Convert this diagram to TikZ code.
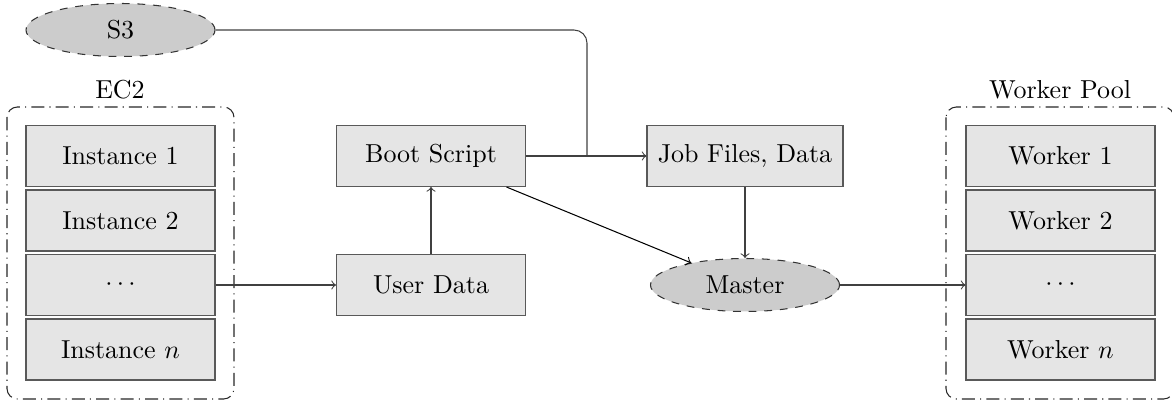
\documentclass[tikz,border=0pt]{standalone}
\usetikzlibrary{shapes.geometric}
\newdimen\pxu \pxu=0.385pt
\begin{document}
\begin{tikzpicture}[x=0.385pt,y=-0.385pt,
  box/.style={draw=black!65,fill=black!10,minimum width=189\pxu,minimum height=61\pxu,inner sep=0pt},
  cloud/.style={ellipse,draw=black!80,dashed,fill=black!20,minimum width=189\pxu,minimum height=53\pxu,inner sep=0pt},
  group/.style={draw=black!85,dash pattern=on 5pt off 2pt on 0.4pt off 2pt,rounded corners=4pt},
  conn/.style={draw=black!75,->,>=to},
  every node/.style={font=\normalsize}]
\useasboundingbox (0,0) rectangle (1172,400);
% groups
\draw[group] (7,107) rectangle (234,399);
\draw[group] (946,107) rectangle (1174,399);
\node (ec2lbl) at (120,90) {EC2};
\node (poollbl) at (1060,90) {Worker Pool};
% instances
\node[box] (i1) at (120.5,156) {Instance 1};
\node[box] (i2) at (120.5,220.5) {Instance 2};
\node[box] (i3) at (120.5,285) {$\cdots$};
\node[box] (in) at (120.5,349.5) {Instance $n$};
% workers
\node[box] (w1) at (1060.5,156) {Worker 1};
\node[box] (w2) at (1060.5,220.5) {Worker 2};
\node[box] (w3) at (1060.5,285) {$\cdots$};
\node[box] (wn) at (1060.5,349.5) {Worker $n$};
% middle
\node[cloud] (s3) at (120.5,30) {S3};
\node[box] (boot) at (431,156) {Boot Script};
\node[box] (user) at (431,285) {User Data};
\node[box,minimum width=196\pxu] (job) at (745,156) {Job Files, Data};
\node[cloud] (master) at (745,285) {Master};
\coordinate (j) at (587,156);
% connectors
\draw[conn] (i3) -- (user);
\draw[conn] (user) -- (boot);
\draw[conn] (boot) -- (job);
\draw[draw=black!75,rounded corners=5pt] (s3.east) -| (j);
\draw[conn] (job) -- (master);
\draw[conn,draw=black] (boot) -- (master);
\draw[conn] (master) -- (w3);
\end{tikzpicture}
\end{document}
